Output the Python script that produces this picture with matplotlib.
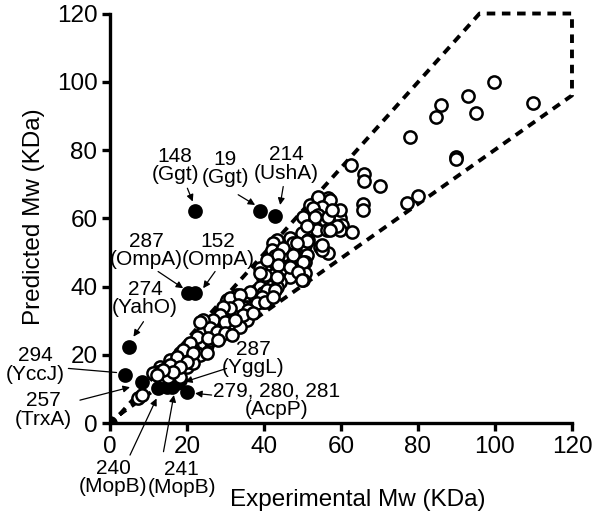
import matplotlib
matplotlib.use("Agg")
import matplotlib.pyplot as plt

plt.rcParams['font.family'] = ['Liberation Sans', 'DejaVu Sans']

# open circles: experimental vs predicted Mw (KDa)
open_exp = [99.8, 86.0, 84.8, 92.9, 95.0, 110.0, 77.9, 90.0, 90.0, 79.9, 77.1, 70.1, 62.6, 66.0, 66.0, 65.8, 65.8,
            56.7, 54.5, 53.7, 57.1, 51.9, 54.1, 55.0, 52.8, 59.7, 59.7, 60.2, 59.7, 62.8, 50.2, 54.1, 55.8, 56.7,
            53.7, 56.3, 49.8, 51.5, 46.8, 50.6, 56.7, 54.5, 55.0, 43.3, 47.6, 42.4, 42.0, 44.2, 48.0, 51.1, 50.6,
            42.9, 45.0, 47.6, 44.6, 50.6, 50.2, 44.2, 46.8, 39.8, 43.7, 39.0, 42.9, 45.9, 46.8, 42.4, 44.2, 40.3,
            39.0, 38.1, 39.0, 41.1, 37.7, 39.8, 43.3, 39.0, 39.8,
            33.3, 35.5, 32.9, 30.3, 36.8, 33.8, 31.2, 28.6, 27.7, 29.4, 32.0, 34.2, 35.5, 33.8, 31.6, 29.4, 32.0,
            29.9, 34.6,
            23.8, 24.2, 26.4, 28.6, 26.8, 22.9, 25.1, 23.4, 20.8, 19.9, 26.0, 23.4, 21.2, 22.5, 26.0, 20.8, 23.4,
            25.1, 26.8, 23.8,
            19.9, 19.0, 17.3, 15.6, 18.2, 16.9, 13.0, 12.1, 16.4, 19.9, 16.9, 18.6, 21.6, 11.2, 13.8, 16.0, 17.7,
            15.1, 18.2,
            7.2, 8.2,
            57.6, 58.9, 53.2, 51.1, 57.1, 51.1, 55.0, 48.5, 45.0, 43.7, 47.6, 50.2, 40.7, 43.7, 46.8, 48.9, 43.3,
            49.8, 40.7, 42.9, 36.4, 39.4, 38.1, 40.3, 42.4, 31.2, 33.8, 33.3, 31.2, 35.9, 34.6, 37.2, 29.4, 28.6,
            26.8, 29.9, 32.5, 24.2, 26.0, 27.7, 29.9, 31.6, 22.5, 25.5, 20.8, 28.1, 19.0, 21.6, 17.3, 19.9, 15.6,
            18.2, 16.4, 13.8, 12.1, 23.4]
open_pred = [99.9, 93.3, 89.8, 95.7, 90.8, 93.9, 83.8, 78.1, 77.4, 66.6, 64.6, 69.5, 75.5, 72.9, 71.0, 64.2, 62.3,
             65.9, 64.4, 65.4, 65.4, 63.9, 66.2, 63.4, 63.0, 60.0, 62.5, 58.1, 56.6, 56.1, 60.5, 61.0, 59.5, 60.5,
             56.6, 56.6, 55.6, 53.7, 54.2, 52.2, 49.8, 51.7, 50.7, 53.7, 52.7, 52.7, 50.7, 49.8, 49.3, 49.3, 47.3,
             46.8, 45.8, 45.4, 47.8, 43.9, 41.9, 43.9, 42.9, 42.4, 42.4, 45.4, 48.8, 49.3, 46.3, 43.4, 41.4, 43.4,
             43.9, 39.0, 40.0, 38.0, 37.0, 35.6, 40.0, 36.1, 38.0,
             35.1, 34.1, 37.5, 36.1, 32.6, 32.2, 32.6, 32.2, 29.7, 28.2, 29.2, 29.7, 30.2, 28.2, 30.7, 26.3, 33.1,
             34.1, 34.1,
             29.7, 26.8, 27.3, 25.8, 24.8, 24.3, 22.9, 21.4, 22.4, 20.4, 24.3, 23.4, 22.4, 20.4, 25.3, 20.4, 19.9,
             20.4, 26.3, 26.3,
             19.4, 16.5, 15.5, 18.5, 20.4, 17.5, 16.5, 15.0, 15.5, 16.5, 15.0, 17.5, 17.5, 14.6, 15.5, 16.5, 16.0,
             13.6, 13.6,
             7.2, 8.2,
             62.5, 57.6, 60.5, 57.6, 56.6, 53.2, 52.2, 52.7, 51.2, 49.3, 49.3, 47.3, 47.8, 46.3, 45.8, 44.4, 42.9,
             41.9, 39.0, 39.0, 38.5, 37.0, 35.1, 35.6, 37.0, 36.6, 37.5, 34.6, 33.6, 33.1, 31.7, 32.2, 34.1, 31.7,
             30.2, 29.7, 30.2, 30.2, 27.8, 26.8, 26.3, 25.8, 25.3, 24.8, 23.4, 24.3, 21.4, 20.4, 19.4, 18.0, 17.0,
             16.5, 15.0, 15.5, 14.1, 29.7]

# filled circles: outliers
filled_exp = [0.0, 22.1, 39.0, 42.9, 20.3, 22.1, 5.0, 3.9, 8.2, 12.5, 14.7, 16.0, 17.3, 19.9, 18.2]
filled_pred = [0.0, 62.0, 62.0, 60.7, 38.0, 38.0, 22.2, 14.1, 12.1, 10.2, 10.6, 10.6, 11.6, 9.2, 12.6]

# labels
labels = ["148\n(Ggt)", "19\n(Ggt)", "214\n(UshA)", "287\n(OmpA)", "152\n(OmpA)", "274\n(YahO)",
          "294\n(YccJ)", "257\n(TrxA)", "240\n(MopB)", "241\n(MopB)", "287\n(YggL)", "279, 280, 281\n(AcpP)"]
label_pos = [(16.9, 75.4), (29.9, 74.6), (45.9, 75.9), (9.5, 50.5), (28.1, 50.5), (9.1, 36.4),
             (-19.5, 17.0), (-17.4, 3.8), (0.9, -16.0), (18.6, -16.2), (37.2, 18.9), (43.3, 6.7)]
arrow_tail = [(20.1, 68.8), (33.3, 66.9), (45.0, 69.3), (12.5, 44.4), (27.3, 44.4), (8.7, 29.7),
              (-10.8, 16.0), (-7.8, 6.7), (5.2, -9.4), (13.9, -8.4), (30.3, 16.0), (26.4, 8.2)]
arrow_tip = [(21.5, 64.9), (37.7, 63.9), (44.2, 63.9), (19.0, 39.5), (24.2, 39.5), (6.1, 25.3),
             (1.7, 14.8), (5.2, 10.5), (12.1, 7.2), (16.6, 8.2), (19.5, 12.1), (22.1, 8.7)]
arrow_head = [True, True, True, True, True, True, False, True, True, True, True, True]

# dashed region (+/- 25%)
region_x = [2.5, 96, 120, 120, 2.5]
region_y = [2.5, 120, 120, 96, 2.5]

fig = plt.figure(figsize=(6.0, 5.14), dpi=100)
ax = fig.add_axes([0.1833, 0.177, 0.77, 0.7967])

ax.plot(region_x, region_y, color='black', lw=2.8, linestyle=(0, (2.2, 1.7)), zorder=1, clip_on=False)
ax.plot(filled_exp, filled_pred, 'o', ms=8.8, mfc='black', mec='black', mew=1.8, zorder=2)
ax.plot(open_exp, open_pred, 'o', ms=8.8, mfc='white', mec='black', mew=1.8, zorder=3)

for txt, pos, tail, tip, head in zip(labels, label_pos, arrow_tail, arrow_tip, arrow_head):
    ax.text(pos[0], pos[1], txt, ha='center', va='center', fontsize=15, linespacing=0.95,
            clip_on=False, zorder=5)
    style = '-|>' if head else '-'
    ax.annotate('', xy=tip, xytext=tail, xycoords='data',
                arrowprops=dict(arrowstyle=style, color='black', lw=0.9,
                                mutation_scale=10, shrinkA=0, shrinkB=0),
                annotation_clip=False, zorder=5)

ax.set_xlim(0, 120)
ax.set_ylim(0, 120)
ax.set_xticks([0, 20, 40, 60, 80, 100, 120])
ax.set_yticks([0, 20, 40, 60, 80, 100, 120])
for s in ['top', 'right']:
    ax.spines[s].set_visible(False)
for s in ['left', 'bottom']:
    ax.spines[s].set_linewidth(2.4)
    ax.spines[s].set_zorder(4)
ax.tick_params(width=2.4, length=6, labelsize=17.5, pad=3)
ax.set_xlabel('Experimental Mw (KDa)', fontsize=17.5)
ax.set_ylabel('Predicted Mw (KDa)', fontsize=17.5)
ax.xaxis.set_label_coords(0.537, -0.161)
ax.yaxis.set_label_coords(-0.14, 0.504)

fig.savefig('out.png', dpi=100)
